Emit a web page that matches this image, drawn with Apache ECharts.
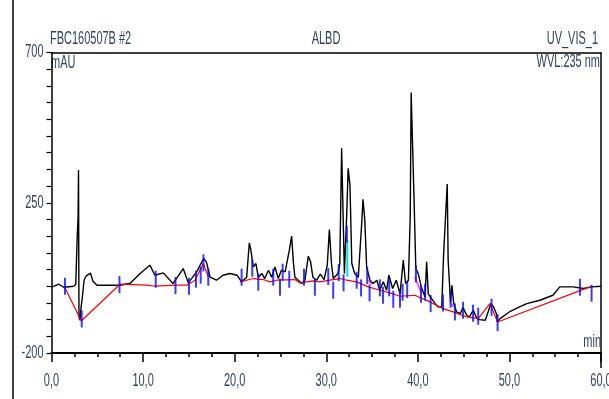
<!DOCTYPE html>
<html>
<head>
<meta charset="utf-8">
<script src="https://cdn.jsdelivr.net/npm/echarts@6.0.0/dist/echarts.min.js"></script>
<style>
html,body{margin:0;padding:0;background:#fff;}
#chart{width:609px;height:399px;}
</style>
</head>
<body>
<div id="chart"></div>
<script>
// retention time (min), signal (mAU)
const trace = [
  [0,-3],[0.82,6],[1.33,-3],[2.44,0],[2.65,6],[2.82,159],[2.9,204],[2.95,348],[3.0,-93],[3.11,-102],
  [3.25,-58],[3.33,-42],[3.56,18],[3.76,30],[4.26,39],[4.53,15],[4.97,3],[7.5,3],[8.6,9],[9.67,38],
  [10.74,63],[11.3,33],[12.2,40],[13.27,8],[14.38,53],[14.94,10],[15.85,43],[16.61,83],[16.91,73],[17.32,27],
  [18.02,18],[18.73,33],[19.49,38],[20.25,33],[20.75,13],[20.96,10],[21.31,27],[21.6,130],[21.77,108],[22.03,58],
  [22.32,68],[22.58,27],[22.98,38],[23.28,23],[23.69,48],[24.04,27],[24.4,58],[24.76,23],[25.1,48],[25.51,43],
  [25.97,108],[26.22,150],[26.42,68],[26.58,27],[27.33,8],[27.67,18],[28.04,90],[28.29,73],[28.54,27],[28.95,18],
  [29.35,36],[29.76,20],[30.11,63],[30.34,170],[30.57,68],[30.77,23],[30.97,23],[31.28,38],[31.48,68],[31.68,413],
  [31.85,408],[31.98,38],[32.24,218],[32.39,353],[32.59,303],[32.79,68],[33.1,38],[33.5,27],[33.87,188],[34.01,260],
  [34.21,198],[34.41,58],[34.77,18],[35.12,8],[35.53,18],[35.83,-12],[36.23,13],[36.59,-12],[36.84,33],[37.25,-7],
  [37.65,18],[38.06,-23],[38.41,78],[38.66,8],[38.97,18],[39.17,208],[39.27,580],[39.42,580],[39.57,278],[39.78,53],
  [40.04,38],[40.38,-2],[40.59,-2],[40.79,-32],[40.96,73],[41.14,-23],[41.5,-37],[41.9,-52],[42.2,-62],[42.61,-62],
  [42.81,93],[43.06,228],[43.21,306],[43.31,78],[43.57,-47],[43.72,3],[43.92,-52],[44.23,-77],[44.63,-82],[44.93,-64],
  [45.34,-87],[45.64,-92],[46.05,-72],[46.45,-97],[46.75,-100],[47.36,-102],[47.67,-77],[47.97,-52],[48.27,-62],[48.58,-82],
  [48.68,-107],[48.98,-97],[49.18,-92],[50.1,-75],[51.1,-62],[51.9,-52],[53.33,-42],[54.75,-27],[55.5,-2],[56.97,-2],
  [58.08,-7],[59.0,-2],[60,0]
];

// integration baselines
const baselineA = [[1.43,-2],[3.25,-104],[7.48,6]];
const baselineB = [[7.48,6],[10.4,3],[11.3,0],[13.48,3],[14.76,3],[15.67,18],[16.57,68],[17.12,28]];
const baselineC = [
  [20.58,13],[22.03,23],[23.12,20],[23.85,13],[24.58,18],[26.58,20],[27.13,10],[28.58,16],[29.31,13],[30.4,18],
  [31.5,23],[32.23,18],[33.32,13],[34.59,-2],[35.86,-12],[36.95,-20],[38.05,-30],[39.68,-27],[41.32,-47],[42.77,-67],
  [43.86,-77],[45.33,-92],[46.59,-97],[47.87,-52],[48.71,-107],[58.79,-2]
];

// peak start / end delimiters
const delimiters = [
  [1.47,0],[3.3,-98],[7.42,5],[11.38,21],[13.54,2],[15.01,0],[15.78,21],[16.29,33],[16.59,70],[17.12,27],
  [20.76,27],[21.92,54],[22.58,12],[24.21,27],[24.95,-3],[25.24,42],[25.96,21],[27.57,27],[28.76,-3],[30.22,29],
  [30.76,-12],[31.36,41],[31.89,10],[32.25,156],[33.32,18],[33.8,-5],[34.47,32],[34.73,-20],[35.86,-5],[36.2,-27],
  [36.87,-5],[37.32,-39],[38.05,-39],[38.34,-18],[38.84,-10],[39.79,37],[40.35,-24],[40.79,-18],[41.4,-52],[42.75,-50],
  [43.58,-39],[44.05,-77],[44.94,-72],[46.03,-81],[46.59,-90],[48.05,-63],[48.71,-109],[57.7,-3],[58.97,-21]
];

const cyanFill = [[32.3,28],[32.3,138]];
const magentaSegs = [
  [[34.6,18],[34.96,6]],
  [[39.68,28],[40.4,-22]],
  [[43.5,-47],[43.87,-62]]
];

const xTickLabels = [0, 10, 20, 30, 40, 50, 60];
const yTickLabels = [-200, 250, 700];

const textColor = '#34405e';
const textFont = "18px 'Liberation Sans', Arial, sans-serif";

const chart = echarts.init(document.getElementById('chart'), null, {renderer: 'canvas'});

// squeezed text like the source printout
const squeezedText = (id, text, x, y, align) => ({
  id: id,
  type: 'text',
  x: x,
  y: y,
  scaleX: 0.61,
  style: {
    text: text,
    fill: textColor,
    font: textFont,
    align: align,
    verticalAlign: 'middle'
  }
});

const option = {
  animation: false,
  backgroundColor: '#fff',
  grid: {
    left: 51.5,
    right: 8,
    top: 52.5,
    bottom: 46,
    outerBoundsMode: 'none'
  },
  xAxis: [
    {
      type: 'value',
      min: 0,
      max: 60,
      interval: 10,
      axisLine: {show: true, onZero: false, lineStyle: {color: '#000', width: 2}},
      axisTick: {show: true, length: 9, lineStyle: {color: '#000', width: 1.5}},
      minorTick: {show: true, splitNumber: 4, length: 4, lineStyle: {color: '#000', width: 1.5}},
      splitLine: {show: false},
      minorSplitLine: {show: false},
      axisLabel: {show: false}
    },
    {
      type: 'value',
      position: 'top',
      min: 0,
      max: 60,
      axisLine: {show: true, onZero: false, lineStyle: {color: '#000', width: 1.5}},
      axisTick: {show: false},
      axisLabel: {show: false},
      splitLine: {show: false}
    }
  ],
  yAxis: {
    type: 'value',
    min: -200,
    max: 700,
    interval: 50,
    axisLine: {show: true, onZero: false, lineStyle: {color: '#000', width: 1.5}},
    axisTick: {show: true, interval: 0, length: 5, lineStyle: {color: '#000', width: 1.2}},
    splitLine: {show: false},
    axisLabel: {show: false}
  },
  graphic: [
    {id: 'frameL', type: 'line', shape: {x1: 13, y1: 0, x2: 13, y2: 399}, style: {stroke: '#000', lineWidth: 1.5}},
    {id: 'frameR', type: 'line', shape: {x1: 601, y1: 52.5, x2: 601, y2: 368}, style: {stroke: '#000', lineWidth: 1.5}},
    squeezedText('h1', 'FBC160507B #2', 50, 39, 'left'),
    squeezedText('h2', 'ALBD', 326, 39, 'center'),
    squeezedText('h3', 'UV_VIS_1', 598, 39, 'right'),
    squeezedText('h4', 'mAU', 51, 63, 'left'),
    squeezedText('h5', 'WVL:235 nm', 600, 62, 'right'),
    squeezedText('h6', 'min', 601, 342, 'right')
  ],
  series: [
    {
      name: 'UV_VIS_1',
      type: 'line',
      symbol: 'none',
      data: trace,
      lineStyle: {color: '#000', width: 1.4},
      z: 2
    },
    {
      type: 'line', symbol: 'none', data: baselineA,
      lineStyle: {color: '#ff0000', width: 1.2}, z: 3
    },
    {
      type: 'line', symbol: 'none', data: baselineB,
      lineStyle: {color: '#ff0000', width: 1.2}, z: 3
    },
    {
      type: 'line', symbol: 'none', data: baselineC,
      lineStyle: {color: '#ff0000', width: 1.2}, z: 3
    },
    {
      type: 'line', symbol: 'none', data: cyanFill,
      lineStyle: {color: '#00e0e0', width: 2}, z: 4
    },
    ...magentaSegs.map(seg => ({
      type: 'line', symbol: 'none', data: seg,
      lineStyle: {color: '#ff33ff', width: 1.5}, z: 4
    })),
    {
      type: 'scatter',
      symbol: 'rect',
      symbolSize: [2, 17],
      data: delimiters,
      itemStyle: {color: '#0a0aff'},
      z: 5
    }
  ]
};

chart.setOption(option);

// tick labels placed at the axis positions, squeezed like the header text
const axisY = chart.convertToPixel({xAxisIndex: 0}, 0) !== undefined
  ? chart.convertToPixel({yAxisIndex: 0}, -200) : 353;
const axisX = chart.convertToPixel({xAxisIndex: 0}, 0);
const tickLabels = [];
xTickLabels.forEach((v, i) => {
  tickLabels.push(squeezedText('xl' + i, v.toFixed(1).replace('.', ','),
    chart.convertToPixel({xAxisIndex: 0}, v), axisY + 28, 'center'));
});
yTickLabels.forEach((v, i) => {
  tickLabels.push(squeezedText('yl' + i, String(v),
    axisX - 8, chart.convertToPixel({yAxisIndex: 0}, v), 'right'));
});
chart.setOption({graphic: tickLabels});
</script>
</body>
</html>
